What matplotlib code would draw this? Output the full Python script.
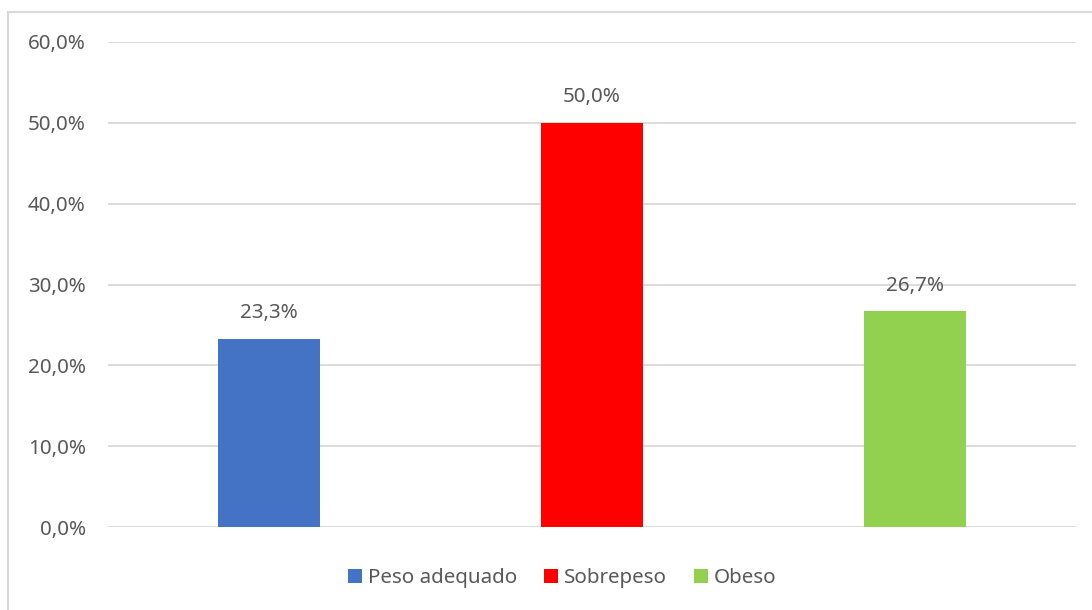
import numpy as np
import matplotlib.pyplot as plt
from matplotlib.patches import Rectangle

categories = ['Peso adequado', 'Sobrepeso', 'Obeso']
values = [23.3, 50.0, 26.7]
colors = ['#4472C4', '#FF0000', '#92D050']

plt.rcParams['font.family'] = ['Noto Sans', 'DejaVu Sans']
text_color = '#595959'
fs = 14.8

fig = plt.figure(figsize=(10.92, 6.10), dpi=100)
ax = fig.add_axes([108 / 1092, 83 / 610, (1076 - 108) / 1092, (527 - 42) / 610])

# outer chart frame (left and top edges show, the rest runs off the canvas)
top = 1 - 12 / 610
fig.patches.append(Rectangle((8 / 1092, -0.1), 1.2, top + 0.1,
                             transform=fig.transFigure, fill=False,
                             edgecolor='#d9d9d9', linewidth=1.5, zorder=0))

x = np.arange(len(categories))
for i, (cat, v, c) in enumerate(zip(categories, values, colors)):
    ax.bar(x[i], v, width=0.316, color=c, label=cat, zorder=3)
    ax.text(x[i], v + 1.9, f'{v:.1f}%'.replace('.', ','), ha='center', va='bottom',
            fontsize=fs, color=text_color)

ax.set_xlim(-0.5, 2.5)
ax.set_ylim(0, 60)
ax.set_yticks(np.arange(0, 61, 10))
ax.set_yticklabels([f'{t:.1f}%'.replace('.', ',') for t in np.arange(0, 61, 10)])
ax.set_xticks([])
ax.tick_params(axis='y', length=0, pad=16, labelsize=fs, labelcolor=text_color)
ax.grid(axis='y', color='#d9d9d9', linewidth=1.3, zorder=0)
for s in ax.spines.values():
    s.set_visible(False)

fig.legend(loc='center', bbox_to_anchor=(562 / 1092, 1 - 578 / 610), ncol=3,
           frameon=False, fontsize=fs, labelcolor=text_color,
           handlelength=0.68, handleheight=0.68, handletextpad=0.3, columnspacing=1.3)

fig.savefig('out.png', dpi=100)
